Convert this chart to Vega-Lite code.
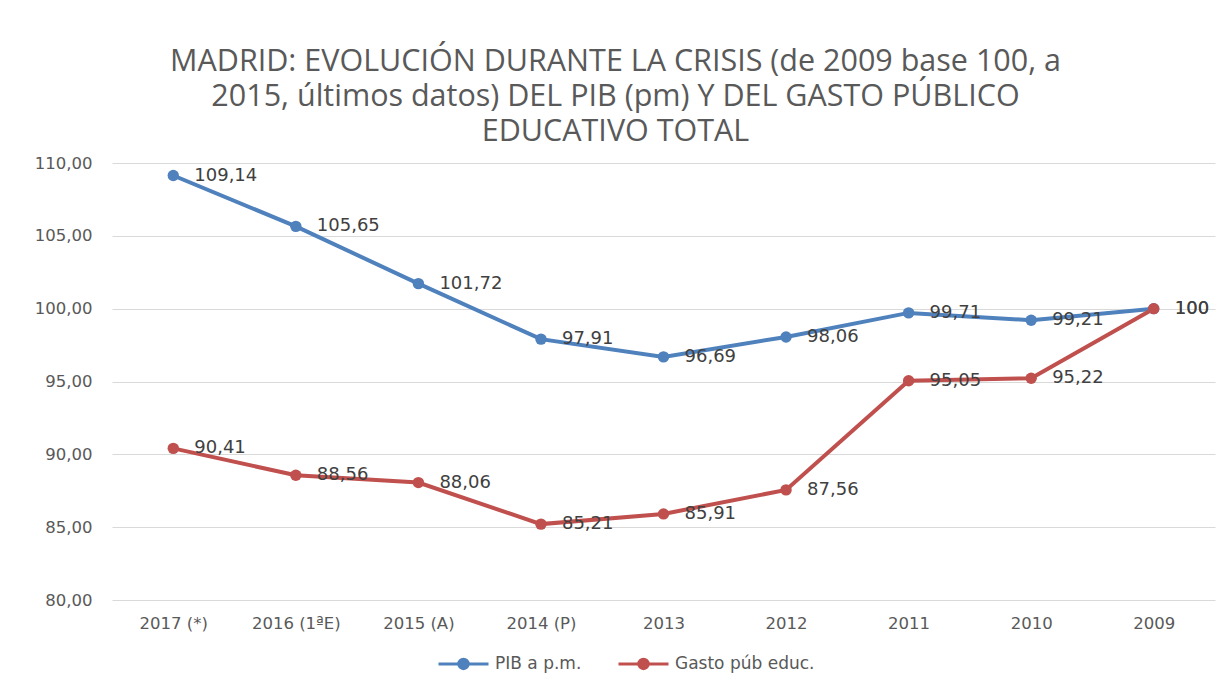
{
  "$schema": "https://vega.github.io/schema/vega-lite/v6.json",
  "autosize": {"type": "none"},
  "width": 1103,
  "height": 437,
  "padding": {"left": 112, "top": 163, "right": 15, "bottom": 88},
  "background": "white",
  "config": {
    "locale": {"number": {"decimal": ",", "thousands": ".", "grouping": [3], "currency": ["", " €"]}},
    "view": {"stroke": null}
  },
  "title": {
    "text": ["MADRID: EVOLUCIÓN DURANTE LA CRISIS (de 2009 base 100, a", "2015, últimos datos) DEL PIB (pm) Y DEL GASTO PÚBLICO", "EDUCATIVO TOTAL"],
    "font": "Open Sans",
    "fontSize": 30.5,
    "fontWeight": "normal",
    "color": "#595959",
    "anchor": "middle",
    "baseline": "bottom",
    "lineHeight": 35,
    "offset": -22,
    "dx": -48
  },
  "data": {
    "values": [
      {"year": "2017 (*)", "series": "PIB a p.m.", "value": 109.14},
      {"year": "2016 (1ªE)", "series": "PIB a p.m.", "value": 105.65},
      {"year": "2015 (A)", "series": "PIB a p.m.", "value": 101.72},
      {"year": "2014 (P)", "series": "PIB a p.m.", "value": 97.91},
      {"year": "2013", "series": "PIB a p.m.", "value": 96.69},
      {"year": "2012", "series": "PIB a p.m.", "value": 98.06},
      {"year": "2011", "series": "PIB a p.m.", "value": 99.71},
      {"year": "2010", "series": "PIB a p.m.", "value": 99.21},
      {"year": "2009", "series": "PIB a p.m.", "value": 100},
      {"year": "2017 (*)", "series": "Gasto púb educ.", "value": 90.41},
      {"year": "2016 (1ªE)", "series": "Gasto púb educ.", "value": 88.56},
      {"year": "2015 (A)", "series": "Gasto púb educ.", "value": 88.06},
      {"year": "2014 (P)", "series": "Gasto púb educ.", "value": 85.21},
      {"year": "2013", "series": "Gasto púb educ.", "value": 85.91},
      {"year": "2012", "series": "Gasto púb educ.", "value": 87.56},
      {"year": "2011", "series": "Gasto púb educ.", "value": 95.05},
      {"year": "2010", "series": "Gasto púb educ.", "value": 95.22},
      {"year": "2009", "series": "Gasto púb educ.", "value": 100}
    ]
  },
  "encoding": {
    "x": {
      "field": "year",
      "type": "ordinal",
      "sort": null,
      "scale": {"type": "point", "padding": 0.5},
      "axis": {
        "title": null,
        "labelAngle": 0,
        "domain": false,
        "ticks": false,
        "labelFont": "DejaVu Sans",
        "labelFontSize": 16.5,
        "labelColor": "#595959",
        "labelPadding": 15
      }
    },
    "y": {
      "field": "value",
      "type": "quantitative",
      "scale": {"domain": [80, 110], "nice": false, "zero": false},
      "axis": {
        "title": null,
        "values": [80, 85, 90, 95, 100, 105, 110],
        "format": ".2f",
        "domain": false,
        "ticks": false,
        "grid": true,
        "gridColor": "#d9d9d9",
        "gridWidth": 1,
        "labelFont": "DejaVu Sans",
        "labelFontSize": 16.5,
        "labelColor": "#595959",
        "labelPadding": 20
      }
    },
    "color": {
      "field": "series",
      "type": "nominal",
      "sort": ["PIB a p.m.", "Gasto púb educ."],
      "scale": {"domain": ["PIB a p.m.", "Gasto púb educ."], "range": ["#4f81bd", "#c0504d"]},
      "legend": {
        "title": null,
        "orient": "none",
        "direction": "horizontal",
        "legendX": 325,
        "legendY": 474,
        "padding": 0,
        "symbolType": "M-1,0H1M-0.19,0A0.19,0.19 0 1,0 0.19,0A0.19,0.19 0 1,0 -0.19,0Z",
        "symbolSize": 2500,
        "symbolStrokeWidth": 3,
        "labelFont": "DejaVu Sans",
        "labelFontSize": 17,
        "labelColor": "#595959",
        "labelOffset": 5,
        "columnPadding": 30,
        "encode": {
          "symbols": {"update": {"fill": {"scale": "color", "field": "value"}, "stroke": {"scale": "color", "field": "value"}}}
        }
      }
    }
  },
  "layer": [
    {
      "mark": {"type": "line", "strokeWidth": 4, "point": {"size": 130, "filled": true, "opacity": 1}}
    },
    {
      "mark": {"type": "text", "align": "left", "baseline": "middle", "dx": 21, "font": "DejaVu Sans", "fontSize": 18, "color": "#404040"},
      "encoding": {
        "text": {"field": "value", "type": "quantitative", "format": ".5~r"},
        "color": {"value": "#404040"}
      }
    }
  ]
}
